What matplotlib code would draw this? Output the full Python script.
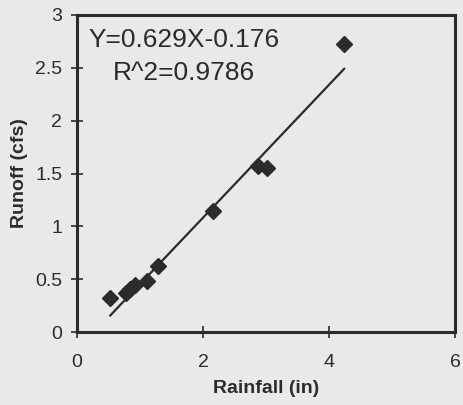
#!/usr/bin/env python3
"""Runoff vs rainfall scatter with linear fit."""

import matplotlib
matplotlib.use("Agg")
import matplotlib.pyplot as plt
import numpy as np

rainfall = [0.53, 0.78, 0.85, 0.92, 1.12, 1.29, 2.16, 2.88, 3.01, 4.24]
runoff = [0.32, 0.37, 0.41, 0.45, 0.48, 0.63, 1.15, 1.57, 1.55, 2.73]
slope = 0.629
intercept = -0.176
eq_text = "Y=0.629X-0.176"
r2_text = "R^2=0.9786"
x_ticks = [0, 2, 4, 6]
y_ticks = [0, 0.5, 1, 1.5, 2, 2.5, 3]
y_tick_labels = ["0", "0.5", "1", "1.5", "2", "2.5", "3"]

bg = "#e9e9e7"
ink = "#2b2b2b"

plt.rcParams["font.family"] = ["Liberation Sans", "DejaVu Sans"]

fig = plt.figure(figsize=(4.63, 4.05), dpi=100, facecolor=bg)
ax = fig.add_axes([0.166, 0.180, 0.817, 0.783], facecolor=bg)

x = np.array(rainfall)
fit_x = np.array([x.min(), x.max()])
ax.plot(fit_x, slope * fit_x + intercept, color=ink, linewidth=1.6, zorder=2)
ax.plot(rainfall, runoff, linestyle="none", marker="D", markersize=8.5,
        color=ink, zorder=3)

ax.set_xlim(0, 6)
ax.set_ylim(0, 3)
ax.set_xticks(x_ticks)
ax.set_yticks(y_ticks)
ax.set_yticklabels(y_tick_labels)

for s in ax.spines.values():
    s.set_linewidth(2.2)
    s.set_color(ink)

ax.tick_params(axis="both", direction="inout", length=9, width=1.2,
               colors=ink, labelsize=14)
ax.tick_params(axis="x", pad=11)
ax.tick_params(axis="y", pad=6)

ax.set_xlabel("Rainfall (in)", fontsize=14, fontweight="bold", color=ink, labelpad=7)
ax.set_ylabel("Runoff (cfs)", fontsize=14, fontweight="bold", color=ink, labelpad=5)

ax.text(0.03, 0.96, eq_text, transform=ax.transAxes, fontsize=19,
        color=ink, va="top", ha="left")
ax.text(0.095, 0.855, r2_text, transform=ax.transAxes, fontsize=19,
        color=ink, va="top", ha="left")

fig.savefig("out.png", dpi=100, facecolor=bg)
